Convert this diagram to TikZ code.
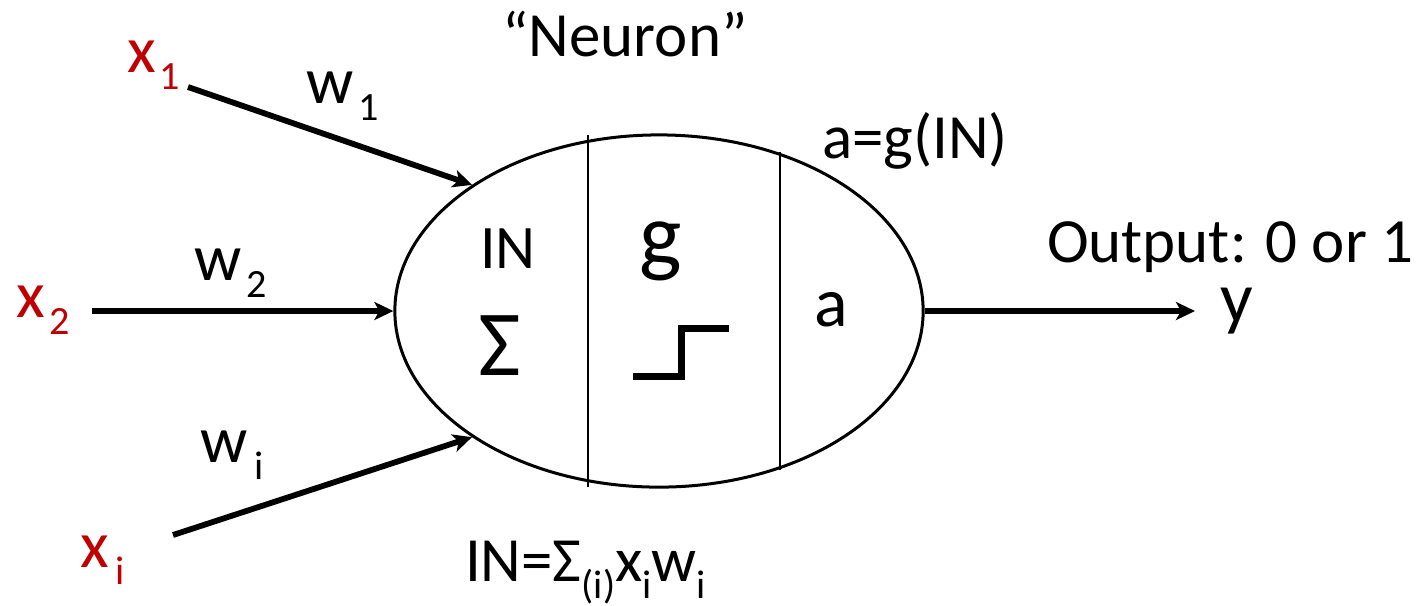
\documentclass[tikz,border=0pt]{standalone}
\usepackage{fontspec}
\setmainfont{Carlito}
\usetikzlibrary{shapes.geometric,arrows.meta}
\definecolor{xred}{RGB}{192,0,0}
\newcommand{\fsz}[1]{\fontsize{#1}{#1}\selectfont}
\newcommand{\sbs}[1]{\raisebox{-5.1pt}{\fsz{11.4}#1}}
\tikzset{
  lbl/.style={inner sep=0pt, outer sep=0pt, anchor=base west},
  inlbl/.style={lbl, text=xred, font=\fsz{18.8}},
  wlbl/.style={lbl, font=\fsz{18.8}},
  txt/.style={lbl, font=\fsz{17.9}},
  conn/.style={line width=0.058cm, -{Stealth[length=0.19cm,width=0.18cm,inset=0.05cm]}},
  neuronshape/.style={draw, ellipse, line width=0.03cm, minimum width=5.28cm, minimum height=3.52cm, inner sep=0pt},
  divider/.style={line width=0.02cm},
  stepfn/.style={line width=0.07cm}
}
\begin{document}
\begin{tikzpicture}[x=0.01cm,y=-0.01cm]
\useasboundingbox (0,0) rectangle (1419,605);
% neuron
\node[neuronshape] (neuron) at (659,311) {};
\draw[divider] (588,135) -- (588,487);
\draw[divider] (780,152) -- (780,470);
% inner texts
\node[lbl, anchor=base, font=\fsz{17.6}] (inl) at (508,268) {IN};
\node[lbl, anchor=base, font=\fsz{26.5}] (sig) at (500,375) {Σ};
\node[lbl, anchor=base, font=\fsz{25.6}] (gl) at (661,265) {g};
\node[lbl, anchor=base, font=\fsz{19.9}] (al) at (831,326) {a};
\draw[stepfn] (633,376) -- (681,376) -- (681,328) -- (729,328);
% top / bottom labels
\node[txt, anchor=base] (neulbl) at (625,56) {“Neuron”};
\node[txt] (agl) at (822,158) {a=g(IN)};
\node[txt] (inf) at (465,581) {IN=Σ\sbs{(i)}x\sbs{i}w\sbs{i}};
\node[txt] (outl) at (1047,262) {Output: 0 or 1};
\node[lbl, font=\fsz{20.5}] (yl) at (1220,322) {y};
% inputs
\node[inlbl] (x1) at (127,72) {x\kern1pt\sbs{1}};
\node[inlbl] (x2) at (17,317) {x\kern1pt\sbs{2}};
\node[inlbl] (xi) at (80,567) {x\kern2pt\sbs{i}};
\node[wlbl] (w1) at (306,103) {w\kern1.5pt\sbs{1}};
\node[wlbl] (w2) at (194,280) {w\kern1.5pt\sbs{2}};
\node[wlbl] (wi) at (200,462) {w\kern2pt\sbs{i}};
% connectors
\coordinate (s1) at (188,87);
\coordinate (s2) at (92,311);
\coordinate (s3) at (173,535);
\coordinate (yend) at (1195,311);
\draw[conn] (s1) -- (neuron.146);
\draw[conn] (s2) -- (neuron.west);
\draw[conn] (s3) -- (neuron.214);
\draw[conn] (neuron.east) -- (yend);
\end{tikzpicture}
\end{document}
